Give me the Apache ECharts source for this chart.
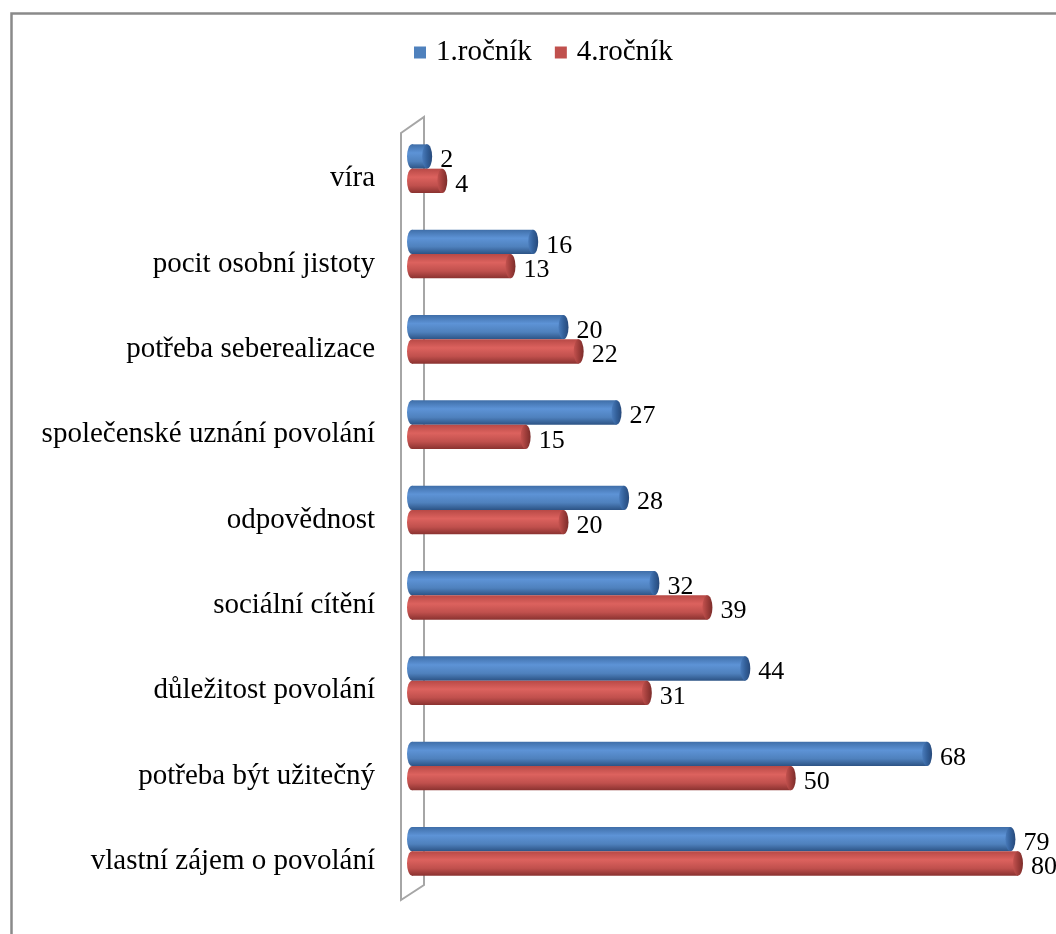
<!DOCTYPE html>
<html>
<head>
<meta charset="utf-8">
<script src="https://cdn.jsdelivr.net/npm/echarts@6/dist/echarts.min.js"></script>
<style>
  html, body { margin: 0; padding: 0; background: #fff; }
  #chart { width: 1056px; height: 934px; }
</style>
</head>
<body>
<div id="chart"></div>
<script>
// Motivy volby studijního oboru – 1. a 4. ročník
const categories = [
  'víra',
  'pocit osobní jistoty',
  'potřeba seberealizace',
  'společenské uznání povolání',
  'odpovědnost',
  'sociální cítění',
  'důležitost povolání',
  'potřeba být užitečný',
  'vlastní zájem o povolání'
];
const rocnik1 = [2, 16, 20, 27, 28, 32, 44, 68, 79];
const rocnik4 = [4, 13, 22, 15, 20, 39, 31, 50, 80];
const seriesNames = ['1.ročník', '4.ročník'];

const FONT = '"Liberation Serif", "Times New Roman", serif';

const palette = {
  blue: { base: '#4F81BD', top: '#3f6ea8', light: '#5d93d6', bottom: '#2c5385', cap: ['#4a7cbc', '#33609a', '#27497a'] },
  red:  { base: '#C0504D', top: '#b84946', light: '#dc625e', bottom: '#8a3230', cap: ['#c4524f', '#a03e3b', '#7c2c2a'] }
};

function bodyGradient(c) {
  return new echarts.graphic.LinearGradient(0, 0, 0, 1, [
    { offset: 0, color: c.top },
    { offset: 0.35, color: c.light },
    { offset: 0.7, color: c.base },
    { offset: 1, color: c.bottom }
  ]);
}
function capGradient(c) {
  return new echarts.graphic.LinearGradient(0, 0, 1, 0, [
    { offset: 0, color: c.cap[0] },
    { offset: 0.5, color: c.cap[1] },
    { offset: 1, color: c.cap[2] }
  ]);
}

// Cylinder-shaped horizontal bar with value label at its end
function cylinderRenderer(c, side) {
  return function (params, api) {
    const cat = api.value(1);
    const v = api.value(0);
    const start = api.coord([0, cat]);
    const end = api.coord([v, cat]);
    const band = api.size([0, 1])[1];
    const h = band * 0.285;
    const yc = start[1] + side * h / 2;
    const ry = h / 2;
    const rx = 5;
    const sx = rx / ry;
    return {
      type: 'group',
      children: [
        {
          type: 'circle',
          shape: { cx: 0, cy: 0, r: ry },
          x: start[0], y: yc, scaleX: sx,
          style: { fill: bodyGradient(c) }
        },
        {
          type: 'rect',
          shape: { x: start[0], y: yc - ry, width: end[0] - start[0], height: h },
          style: { fill: bodyGradient(c) }
        },
        {
          type: 'circle',
          shape: { cx: 0, cy: 0, r: ry },
          x: end[0], y: yc, scaleX: sx,
          style: { fill: capGradient(c) }
        },
        {
          type: 'text',
          x: end[0] + rx + 8,
          y: yc + 4,
          style: {
            text: String(v),
            font: '26px ' + FONT,
            fill: '#000',
            align: 'left',
            verticalAlign: 'middle'
          }
        }
      ]
    };
  };
}

// Back wall of the 3D plot area
function wallRenderer(params, api) {
  const n = categories.length;
  const band = api.size([0, 1])[1];
  const first = api.coord([0, 0]);
  const last = api.coord([0, n - 1]);
  const x0 = first[0];
  const top = first[1] - band / 2;
  const bottom = last[1] + band / 2;
  return {
    type: 'polygon',
    shape: {
      points: [
        [x0 - 11, top + 7],
        [x0 + 12, top - 9],
        [x0 + 12, bottom - 9],
        [x0 - 11, bottom + 6]
      ]
    },
    style: { fill: 'none', stroke: '#a6a6a6', lineWidth: 2 }
  };
}

const chart = echarts.init(document.getElementById('chart'), null, { renderer: 'canvas' });

chart.setOption({
  backgroundColor: '#fff',
  animation: false,
  graphic: [{
    type: 'rect',
    shape: { x: 11.5, y: 13.5, width: 1200, height: 1000 },
    style: { fill: 'none', stroke: '#8a8a8a', lineWidth: 2.5 },
    silent: true,
    z: 100
  }],
  legend: {
    data: seriesNames,
    left: 409,
    top: 33,
    icon: 'rect',
    itemWidth: 12,
    itemHeight: 12,
    itemGap: 23,
    textStyle: { fontFamily: FONT, fontSize: 29, color: '#000', padding: [0, 0, 0, 5] }
  },
  grid: { left: 412, right: 38, top: 126, bottom: 40, containLabel: false },
  xAxis: { type: 'value', min: 0, max: 80, show: false },
  yAxis: {
    type: 'category',
    inverse: true,
    data: categories,
    axisLine: { show: false },
    axisTick: { show: false },
    splitLine: { show: false },
    axisLabel: {
      margin: 37,
      fontFamily: FONT,
      fontSize: 29,
      color: '#000',
      verticalAlign: 'top',
      lineHeight: 20
    }
  },
  series: [
    {
      type: 'custom',
      name: 'wall',
      silent: true,
      clip: false,
      z: 1,
      renderItem: wallRenderer,
      data: [[0, 0]],
      encode: { x: 0, y: 1 }
    },
    {
      type: 'custom',
      name: seriesNames[0],
      clip: false,
      z: 2,
      itemStyle: { color: palette.blue.base },
      renderItem: cylinderRenderer(palette.blue, -1),
      data: rocnik1.map((v, i) => [v, i]),
      encode: { x: 0, y: 1 }
    },
    {
      type: 'custom',
      name: seriesNames[1],
      clip: false,
      z: 3,
      itemStyle: { color: palette.red.base },
      renderItem: cylinderRenderer(palette.red, 1),
      data: rocnik4.map((v, i) => [v, i]),
      encode: { x: 0, y: 1 }
    }
  ]
});
</script>
</body>
</html>
